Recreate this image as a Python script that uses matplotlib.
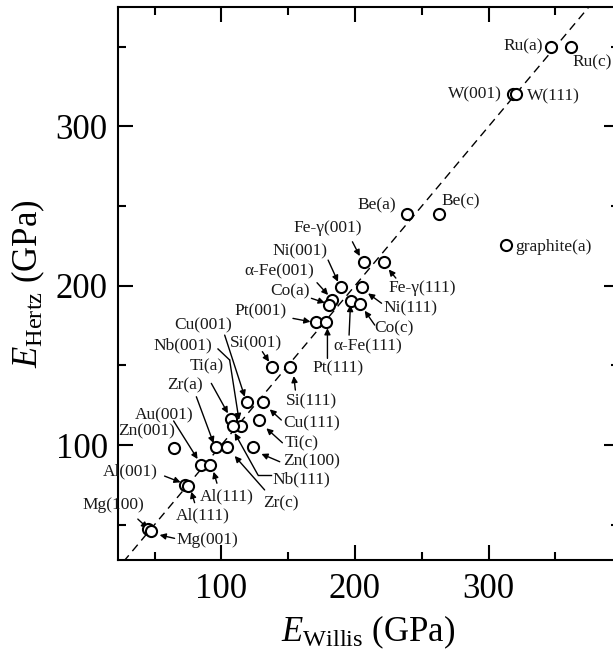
import matplotlib
matplotlib.use("Agg")
import matplotlib.pyplot as plt
from matplotlib.ticker import MultipleLocator

plt.rcParams['font.family'] = ['Liberation Serif', 'DejaVu Serif']
plt.rcParams['mathtext.fontset'] = 'custom'
plt.rcParams['mathtext.rm'] = 'Liberation Serif'
plt.rcParams['mathtext.it'] = 'Liberation Serif:italic'

# ---- data (GPa) ----
labels = ["Ru(a)", "Ru(c)", "W(001)", "W(111)", "Be(a)", "Be(c)", "graphite(a)",
          "Fe-γ(001)", "Fe-γ(111)", "Ni(001)", "Ni(111)", "α-Fe(001)", "Co(a)",
          "α-Fe(111)", "Co(c)", "Pt(001)", "Pt(111)", "Si(001)", "Si(111)",
          "Cu(001)", "Cu(111)", "Ti(a)", "Ti(c)", "Nb(001)", "Nb(111)",
          "Zr(a)", "Zr(c)", "Zn(001)", "Zn(100)", "Au(001)", "Al(111)",
          "Al(001)", "Al(111)", "Mg(100)", "Mg(001)"]
E_willis = [346.7, 361.6, 318.5, 320.5, 238.6, 263.0, 312.7,
            206.8, 221.6, 189.4, 205.6, 182.9, 180.4,
            197.4, 204.1, 170.6, 178.6, 138.2, 151.2,
            119.5, 131.2, 107.5, 128.2, 115.0, 108.7,
            96.3, 104.2, 64.3, 123.7, 85.0, 91.2,
            73.0, 75.0, 45.2, 47.2]
E_hertz = [350.0, 350.0, 320.3, 320.3, 245.0, 245.0, 225.5,
           214.7, 214.7, 199.0, 199.4, 191.0, 187.9,
           190.6, 188.5, 177.4, 177.4, 148.8, 148.8,
           126.8, 126.8, 116.6, 115.7, 111.9, 111.9,
           98.6, 98.6, 98.1, 98.6, 87.4, 87.4,
           75.0, 74.0, 47.0, 46.3]

# ---- annotation layout: (text x, text y, ha, arrow start, arrow tip, bend points) ----
layout = [
    (340.7, 350.2, 'right', None, None, None),
    (362.4, 340.4, 'left', None, None, None),
    (310.0, 320.3, 'right', None, None, None),
    (328.5, 318.6, 'left', None, None, None),
    (231.1, 250.7, 'right', None, None, None),
    (264.8, 252.7, 'left', None, None, None),
    (319.7, 224.5, 'left', None, None, None),
    (179.6, 236.0, 'center', (198.1, 227.6), (203.6, 218.6), None),
    (224.8, 198.4, 'left', (230.6, 204.8), (225.3, 210.2), None),
    (158.7, 221.3, 'center', (179.9, 216.1), (187.3, 202.5), None),
    (221.1, 185.8, 'left', (219.9, 189.0), (209.8, 195.2), None),
    (143.7, 208.8, 'center', (171.6, 201.9), (179.9, 194.2), None),
    (166.1, 196.2, 'right', (167.4, 192.1), (177.4, 189.3), None),
    (209.8, 162.1, 'center', (195.6, 169.0), (196.6, 187.9), None),
    (214.1, 173.3, 'left', (214.8, 175.3), (207.3, 184.3), None),
    (149.1, 184.1, 'right', (153.6, 179.5), (166.7, 177.4), None),
    (187.1, 148.1, 'center', (179.4, 154.4), (179.4, 173.3), None),
    (126.2, 163.8, 'center', (130.7, 158.6), (135.7, 152.3), None),
    (167.1, 127.2, 'center', (155.4, 134.5), (154.2, 143.3), None),
    (86.0, 175.3, 'center', (102.5, 169.0), (117.5, 130.3), None),
    (146.1, 113.6, 'left', (144.9, 115.7), (136.2, 122.4), None),
    (89.4, 149.2, 'center', (92.5, 138.7), (104.9, 119.9), None),
    (147.4, 101.1, 'left', (145.7, 101.4), (133.7, 110.5), None),
    (71.2, 162.8, 'center', (106.2, 153.4), (113.2, 115.7), [(97.5, 160.3), (106.2, 153.4)]),
    (138.2, 78.5, 'left', (127.4, 81.2), (110.0, 107.5), [(137.5, 81.2), (127.4, 81.2)]),
    (72.5, 137.7, 'center', (81.3, 130.3), (94.2, 101.1), None),
    (131.2, 63.4, 'left', (132.4, 71.8), (110.0, 93.1), None),
    (44.4, 108.3, 'center', None, None, None),
    (146.1, 89.5, 'left', (143.7, 89.5), (130.0, 94.4), None),
    (56.9, 118.8, 'center', (64.3, 115.1), (82.2, 91.2), None),
    (104.3, 67.5, 'center', (96.7, 76.0), (94.2, 83.2), None),
    (32.1, 83.2, 'center', (57.5, 80.5), (69.5, 76.6), None),
    (86.2, 56.1, 'center', (80.0, 63.8), (77.5, 70.7), None),
    (19.5, 62.3, 'center', (37.5, 53.5), (45.0, 47.7), None),
    (66.7, 40.4, 'left', (65.0, 41.4), (53.8, 43.5), None),
]

fig = plt.figure(figsize=(6.13, 6.53), dpi=100)
ax = fig.add_axes([0.1917, 0.1424, 0.8181, 0.8464])

ax.plot([0, 400], [0, 400], color='black', lw=1.0, dashes=(6, 4), zorder=1)
ax.plot(E_willis, E_hertz, 'o', mfc='white', mec='black', ms=8, mew=1.5,
        linestyle='none', zorder=3)

for lab, (tx, ty, ha, start, tip, bend) in zip(labels, layout):
    ax.text(tx, ty, lab, ha=ha, va='center', fontsize=12.5, color='#1a1a1a',
            zorder=4)
    if bend is not None:
        ax.plot([p[0] for p in bend], [p[1] for p in bend], color='black',
                lw=1.0, zorder=2)
    if start is not None:
        ax.annotate('', xy=tip, xytext=start,
                    arrowprops=dict(arrowstyle='-|>', color='black', lw=1.0,
                                    mutation_scale=9, shrinkA=0, shrinkB=0),
                    zorder=2)

ax.set_xlim(22.3, 397.6)
ax.set_ylim(27.8, 374.8)
ax.xaxis.set_major_locator(MultipleLocator(100))
ax.xaxis.set_minor_locator(MultipleLocator(50))
ax.yaxis.set_major_locator(MultipleLocator(100))
ax.yaxis.set_minor_locator(MultipleLocator(50))
ax.tick_params(which='both', direction='in', top=True, right=True, width=1.5,
               labelsize=25, colors='black')
ax.tick_params(which='major', length=11)
ax.tick_params(which='minor', length=5.5)
ax.tick_params(axis='x', pad=9)
ax.tick_params(axis='y', pad=7)
for s in ax.spines.values():
    s.set_linewidth(1.5)

ax.set_xlabel(r'$E_{\mathrm{Willis}}$ (GPa)', fontsize=25, labelpad=6)
ax.set_ylabel(r'$E_{\mathrm{Hertz}}$ (GPa)', fontsize=25, labelpad=6)

fig.savefig('out.png', dpi=100)
